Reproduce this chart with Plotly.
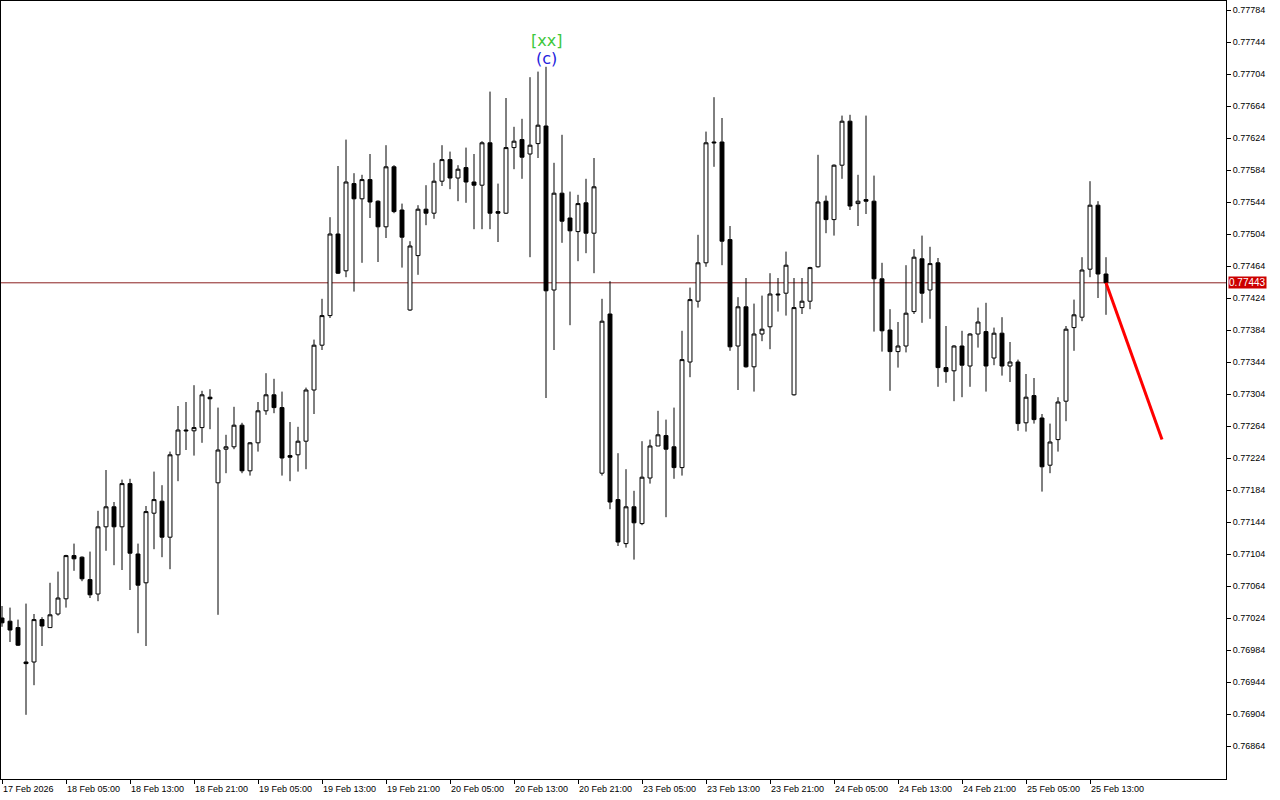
import plotly.graph_objects as go

# bar index (hourly bars, weekend gap removed)
bars = list(range(139))

opens = [0.77024,0.77020,0.77012,0.76969,0.76969,0.77022,0.77012,0.77029,0.77048,0.77102,
         0.77100,0.77072,0.77054,0.77138,0.77163,0.77138,0.77192,0.77104,0.77068,0.77155,
         0.77170,0.77125,0.77228,0.77259,0.77258,0.77262,0.77300,0.77193,0.77235,0.77238,
         0.77265,0.77208,0.77243,0.77283,0.77303,0.77287,0.77227,0.77228,0.77245,0.77309,
         0.77365,0.77402,0.77504,0.77458,0.77567,0.77548,0.77572,0.77545,0.77513,0.77588,
         0.77534,0.77409,0.77477,0.77535,0.77530,0.77570,0.77597,0.77574,0.77587,0.77569,
         0.77565,0.77618,0.77532,0.77530,0.77612,0.77622,0.77604,0.77617,0.77639,0.77434,
         0.77555,0.77524,0.77507,0.77543,0.77505,0.77205,0.77404,0.77172,0.77117,0.77163,
         0.77142,0.77199,0.77239,0.77252,0.77238,0.77212,0.77344,0.77420,0.77468,0.77619,
         0.77619,0.77497,0.77364,0.77413,0.77338,0.77379,0.77388,0.77429,0.77430,0.77303,
         0.77412,0.77420,0.77463,0.77545,0.77522,0.77590,0.77645,0.77542,0.77547,0.77545,
         0.77448,0.77384,0.77357,0.77364,0.77407,0.77473,0.77434,0.77468,0.77337,0.77333,
         0.77364,0.77339,0.77379,0.77382,0.77349,0.77380,0.77339,0.77344,0.77268,0.77302,
         0.77274,0.77215,0.77247,0.77295,0.77387,0.77400,0.77460,0.77540,0.77454]
highs = [0.77039,0.77037,0.77022,0.77042,0.77029,0.77025,0.77068,0.77082,0.77103,0.77117,
         0.77101,0.77107,0.77158,0.77209,0.77169,0.77197,0.77198,0.77117,0.77164,0.77207,
         0.77190,0.77232,0.77289,0.77294,0.77315,0.77308,0.77310,0.77287,0.77253,0.77288,
         0.77268,0.77244,0.77294,0.77330,0.77323,0.77307,0.77269,0.77263,0.77312,0.77372,
         0.77423,0.77525,0.77589,0.77622,0.77580,0.77578,0.77604,0.77546,0.77615,0.77590,
         0.77542,0.77495,0.77540,0.77565,0.77593,0.77615,0.77607,0.77590,0.77612,0.77604,
         0.77620,0.77682,0.77567,0.77674,0.77638,0.77648,0.77700,0.77707,0.77713,0.77593,
         0.77628,0.77557,0.77553,0.77573,0.77599,0.77423,0.77445,0.77230,0.77210,0.77183,
         0.77245,0.77247,0.77283,0.77272,0.77287,0.77383,0.77437,0.77503,0.77632,0.77675,
         0.77649,0.77514,0.77425,0.77449,0.77417,0.77427,0.77455,0.77449,0.77482,0.77449,
         0.77449,0.77463,0.77603,0.77552,0.77591,0.77652,0.77653,0.77578,0.77652,0.77577,
         0.77468,0.77410,0.77394,0.77465,0.77485,0.77502,0.77488,0.77474,0.77389,0.77365,
         0.77383,0.77380,0.77412,0.77418,0.77387,0.77400,0.77369,0.77347,0.77329,0.77324,
         0.77279,0.77267,0.77300,0.77389,0.77422,0.77475,0.77570,0.77545,0.77475]
lows = [0.77013,0.76994,0.76989,0.76903,0.76940,0.76989,0.77012,0.77027,0.77037,0.77083,
        0.77070,0.77049,0.77045,0.77108,0.77090,0.77084,0.77059,0.77005,0.76989,0.77110,
        0.77100,0.77085,0.77195,0.77234,0.77227,0.77243,0.77260,0.77028,0.77205,0.77235,
        0.77205,0.77202,0.77232,0.77278,0.77280,0.77202,0.77195,0.77207,0.77210,0.77279,
        0.77359,0.77399,0.77454,0.77450,0.77432,0.77468,0.77524,0.77469,0.77499,0.77530,
        0.77462,0.77408,0.77453,0.77515,0.77523,0.77564,0.77560,0.77545,0.77543,0.77510,
        0.77510,0.77510,0.77494,0.77529,0.77585,0.77573,0.77475,0.77599,0.77299,0.77359,
        0.77493,0.77390,0.77470,0.77480,0.77455,0.77202,0.77160,0.77114,0.77112,0.77097,
        0.77140,0.77192,0.77239,0.77150,0.77198,0.77202,0.77325,0.77412,0.77463,0.77588,
        0.77465,0.77358,0.77309,0.77337,0.77307,0.77370,0.77360,0.77407,0.77402,0.77302,
        0.77404,0.77410,0.77462,0.77505,0.77502,0.77573,0.77534,0.77514,0.77529,0.77382,
        0.77357,0.77308,0.77337,0.77356,0.77404,0.77393,0.77398,0.77313,0.77318,0.77295,
        0.77300,0.77313,0.77362,0.77307,0.77340,0.77327,0.77319,0.77258,0.77257,0.77267,
        0.77182,0.77205,0.77232,0.77270,0.77358,0.77395,0.77450,0.77424,0.77403]
closes = [0.77018,0.77009,0.76990,0.76967,0.77022,0.77014,0.77028,0.77049,0.77102,0.77098,
          0.77073,0.77053,0.77138,0.77163,0.77138,0.77192,0.77105,0.77065,0.77157,0.77172,
          0.77125,0.77228,0.77259,0.77258,0.77262,0.77303,0.77298,0.77234,0.77238,0.77265,
          0.77208,0.77243,0.77283,0.77303,0.77287,0.77224,0.77225,0.77245,0.77309,0.77365,
          0.77402,0.77504,0.77455,0.77569,0.77548,0.77572,0.77544,0.77513,0.77588,0.77532,
          0.77500,0.77489,0.77535,0.77530,0.77570,0.77597,0.77574,0.77585,0.77569,0.77565,
          0.77618,0.77530,0.77530,0.77612,0.77620,0.77600,0.77615,0.77640,0.77433,0.77555,
          0.77520,0.77508,0.77542,0.77505,0.77563,0.77395,0.77169,0.77119,0.77163,0.77143,
          0.77200,0.77239,0.77253,0.77235,0.77212,0.77347,0.77422,0.77468,0.77618,0.77618,
          0.77495,0.77363,0.77413,0.77338,0.77379,0.77385,0.77429,0.77428,0.77465,0.77412,
          0.77420,0.77462,0.77544,0.77522,0.77590,0.77645,0.77539,0.77545,0.77545,0.77448,
          0.77383,0.77357,0.77364,0.77405,0.77475,0.77430,0.77467,0.77337,0.77332,0.77364,
          0.77340,0.77379,0.77394,0.77339,0.77380,0.77339,0.77344,0.77267,0.77300,0.77272,
          0.77213,0.77244,0.77294,0.77385,0.77403,0.77459,0.77540,0.77454,0.77443]

tick_bars = [0, 8, 16, 24, 32, 40, 48, 56, 64, 72, 80, 88, 96, 104, 112, 120, 128, 136]
tick_labels = ["17 Feb 2026", "18 Feb 05:00", "18 Feb 13:00", "18 Feb 21:00", "19 Feb 05:00",
               "19 Feb 13:00", "19 Feb 21:00", "20 Feb 05:00", "20 Feb 13:00", "20 Feb 21:00",
               "23 Feb 05:00", "23 Feb 13:00", "23 Feb 21:00", "24 Feb 05:00", "24 Feb 13:00",
               "24 Feb 21:00", "25 Feb 05:00", "25 Feb 13:00"]
price_ticks = [0.76864, 0.76904, 0.76944, 0.76984, 0.77024, 0.77064, 0.77104, 0.77144,
               0.77184, 0.77224, 0.77264, 0.77304, 0.77344, 0.77384, 0.77424, 0.77464,
               0.77504, 0.77544, 0.77584, 0.77624, 0.77664, 0.77704, 0.77744, 0.77784]
last_price = 0.77443
forecast_x = [138, 145]
forecast_y = [0.77443, 0.77247]
wave_bar = 68
wave_labels = ["[xx]", "(c)"]

fig = go.Figure()
fig.add_trace(go.Candlestick(
    x=bars, open=opens, high=highs, low=lows, close=closes,
    increasing=dict(fillcolor="white", line=dict(color="black", width=1)),
    decreasing=dict(fillcolor="black", line=dict(color="black", width=1)),
    whiskerwidth=0, showlegend=False, hoverinfo="skip"))
fig.add_trace(go.Scatter(x=forecast_x, y=forecast_y, mode="lines",
                         line=dict(color="#ff0000", width=3), showlegend=False, hoverinfo="skip"))

fig.add_shape(type="line", xref="paper", x0=0, x1=1, yref="y", y0=last_price, y1=last_price,
              line=dict(color="#8a2020", width=1), layer="below")

annotations = []
for b, t in zip(tick_bars, tick_labels):
    annotations.append(dict(x=b, xref="x", y=0, yref="paper", yshift=-3, xshift=-1,
                            text=t, showarrow=False, xanchor="left", yanchor="top",
                            font=dict(family="Liberation Sans", size=9, color="black")))
annotations.append(dict(x=1, xref="paper", y=last_price, yref="y", xshift=2,
                        text="0.77443", showarrow=False, xanchor="left", yanchor="middle",
                        bgcolor="#cc0000", borderpad=0,
                        font=dict(family="Liberation Sans", size=10, color="white")))
annotations.append(dict(x=wave_bar, xref="x", y=1, yref="paper", yshift=-39, yanchor="middle",
                        text=wave_labels[0], showarrow=False,
                        font=dict(family="DejaVu Sans", size=16, color="#3cc83c")))
annotations.append(dict(x=wave_bar, xref="x", y=1, yref="paper", yshift=-57, yanchor="middle",
                        text=wave_labels[1], showarrow=False,
                        font=dict(family="DejaVu Sans", size=16, color="#2222dd")))

fig.update_layout(
    width=1280, height=800,
    margin=dict(l=1, r=54, t=1, b=21),
    paper_bgcolor="white", plot_bgcolor="white",
    annotations=annotations,
    xaxis=dict(range=[-0.125, 153], showgrid=False, zeroline=False, rangeslider=dict(visible=False),
               tickmode="array", tickvals=tick_bars, showticklabels=False,
               ticks="outside", ticklen=4, tickcolor="black",
               showline=True, linecolor="black", linewidth=1, mirror=True),
    yaxis=dict(range=[0.7682275, 0.7779525], side="right", showgrid=False, zeroline=False,
               tickmode="array", tickvals=price_ticks, tickformat=".5f",
               ticks="outside", ticklen=4, tickcolor="black",
               tickfont=dict(family="Liberation Sans", size=9, color="black"),
               showline=True, linecolor="black", linewidth=1, mirror=True),
)
fig.write_html("out.html", config={"displayModeBar": False},
               post_script="document.body.style.margin='0';document.body.style.overflow='hidden';")
